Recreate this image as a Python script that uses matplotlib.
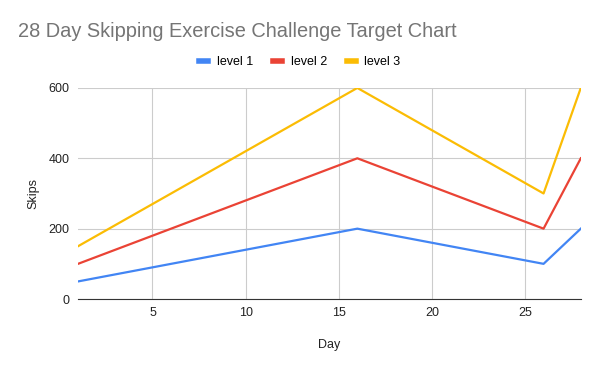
import matplotlib
matplotlib.use('Agg')
import matplotlib.pyplot as plt

days = [1, 16, 26, 28]
level_1 = [50, 200, 100, 200]
level_2 = [100, 400, 200, 400]
level_3 = [150, 600, 300, 600]
series_names = ['level 1', 'level 2', 'level 3']
colors = ['#4285F4', '#EA4335', '#FBBC04']

plt.rcParams['font.family'] = ['Liberation Sans', 'DejaVu Sans']

fig = plt.figure(figsize=(6, 3.71), dpi=100)
ax = fig.add_axes([0.13, 0.194, 0.838, 0.569])

for vals, name, c in zip([level_1, level_2, level_3], series_names, colors):
    ax.plot(days, vals, color=c, linewidth=1.6, label=name)

ax.set_xlim(1, 28)
ax.set_ylim(0, 600)
ax.set_xticks([5, 10, 15, 20, 25])
ax.set_yticks([0, 200, 400, 600])
ax.grid(True, color='#cccccc', linewidth=0.8)
ax.set_axisbelow(True)
for s in ['top', 'right', 'left']:
    ax.spines[s].set_visible(False)
ax.spines['bottom'].set_color('#333333')
ax.tick_params(length=0, labelsize=9, colors='#222222', pad=6)

ax.set_xlabel('Day', fontsize=9, color='#222222', labelpad=14)
ax.set_ylabel('Skips', fontsize=9, color='#222222', labelpad=7)

fig.text(0.03, 0.915, '28 Day Skipping Exercise Challenge Target Chart',
         fontsize=14.4, color='#757575', va='center')
fig.legend(loc='center', bbox_to_anchor=(0.5, 0.833), ncol=3, frameon=False,
           fontsize=9, handlelength=0.7, handletextpad=0.7, columnspacing=1.6)
leg = fig.legends[0]
for h in leg.legend_handles:
    h.set_linewidth(4)

fig.savefig('out.png', dpi=100)
